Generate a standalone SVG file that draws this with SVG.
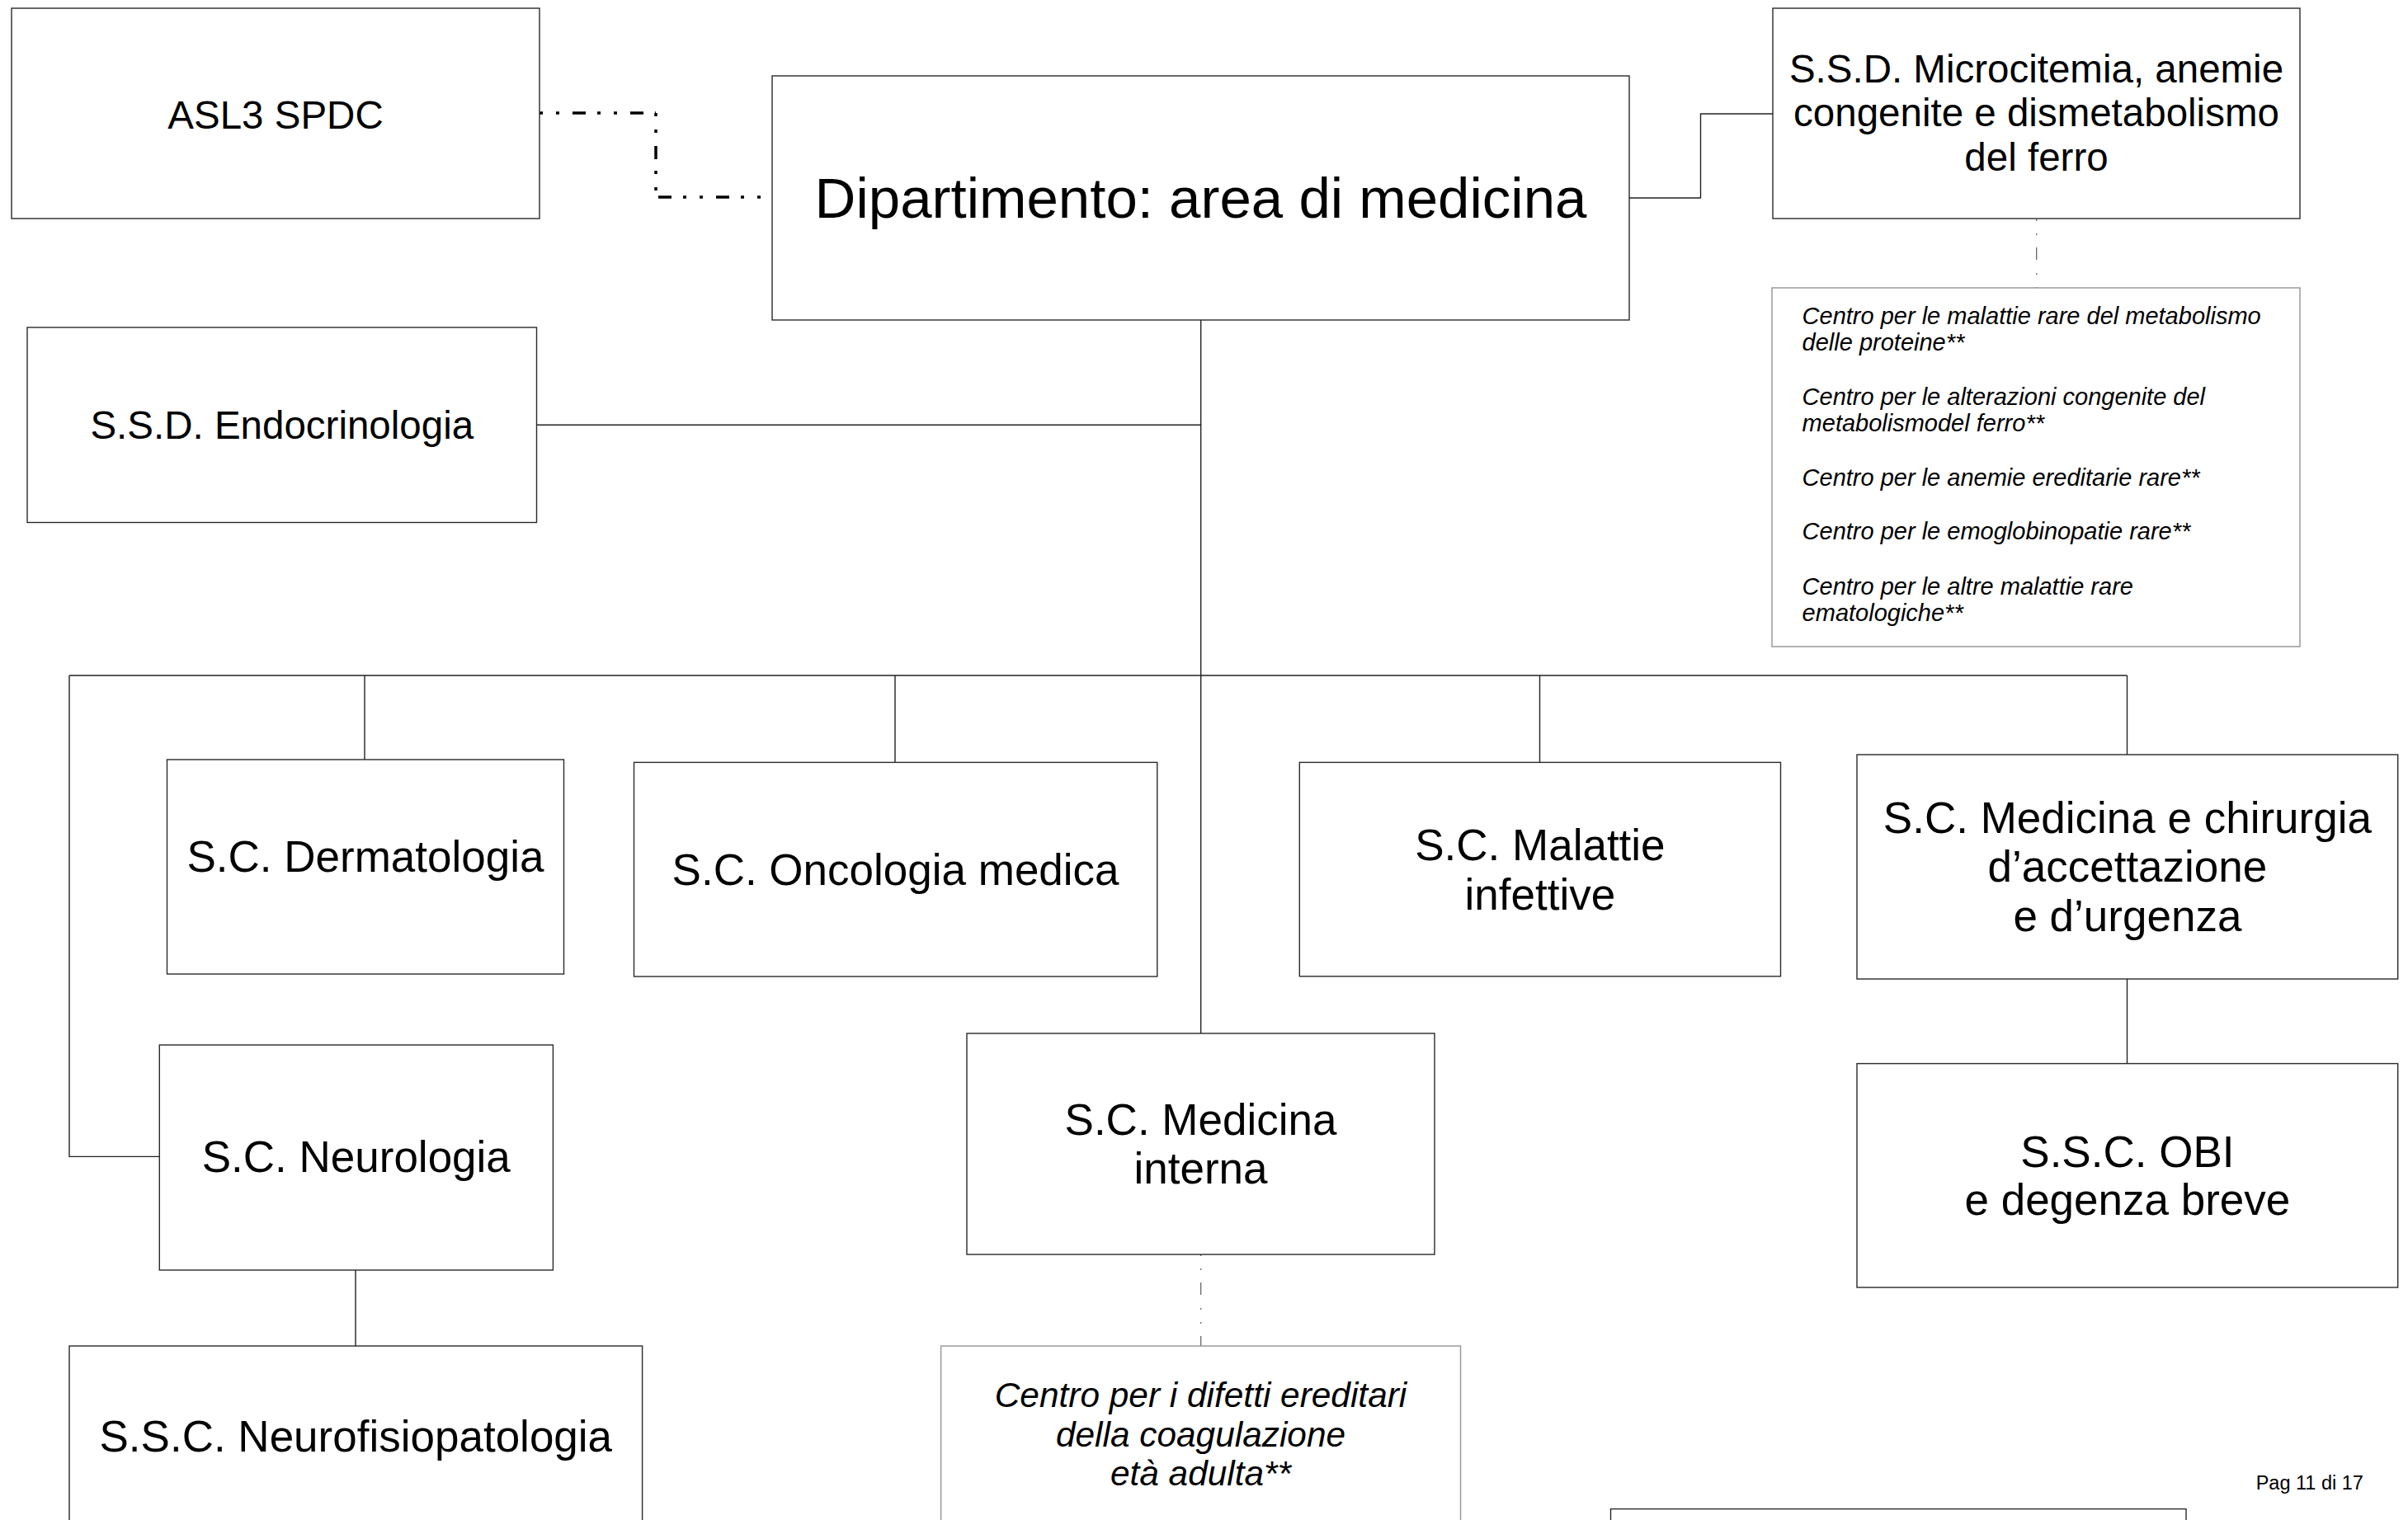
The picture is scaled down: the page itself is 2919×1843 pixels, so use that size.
<svg xmlns="http://www.w3.org/2000/svg" width="2919" height="1843" viewBox="0 0 2919 1843">
<style>
  .box { fill: #ffffff; stroke: #2a2a2a; stroke-width: 1.4; }
  .info { fill: #ffffff; stroke: #9a9a9a; stroke-width: 1.5; }
  .t { font-family: "Liberation Sans", Arial, sans-serif; fill: #000000; text-anchor: middle; }
  .s475 { font-size: 47.5px; }
  .s53 { font-size: 53px; }
  .s69 { font-size: 69px; }
  .it { font-family: "Liberation Sans", Arial, sans-serif; font-style: italic; fill: #000000; }
  .conn { fill: none; stroke: #222222; stroke-width: 1.4; }
  .dd { fill: none; stroke: #000000; stroke-width: 3.5; }
  .gd { fill: none; stroke: #666666; stroke-width: 1.3; stroke-dasharray: 2 15 2 15 15 16; }
</style>
<rect width="2919" height="1843" fill="#ffffff"/>

<g id="connectors">
  <path class="conn" d="M1455.7,388 V819"/>
  <path class="conn" d="M650.5,515.3 H1455.7"/>
  <path class="conn" d="M84,819 H2578.5"/>
  <path class="conn" d="M442,819 V921"/>
  <path class="conn" d="M1085,819 V924.4"/>
  <path class="conn" d="M1455.7,819 V1253"/>
  <path class="conn" d="M1866.5,819 V924.4"/>
  <path class="conn" d="M2578.5,819 V915"/>
  <path class="conn" d="M84,819 V1402.4 H193.3"/>
  <path class="conn" d="M431,1540 V1632"/>
  <path class="conn" d="M2578.5,1187 V1289.6"/>
  <path class="conn" d="M1975,240 H2061.5 V138 H2149"/>
  <path class="dd" d="M654,137 H795" stroke-dasharray="4 16 4 16 16 14"/>
  <path class="dd" d="M795,137 V239" stroke-dasharray="4 16 4 16 16 14"/>
  <path class="dd" d="M798,239 H934" stroke-dasharray="16 14 4 16 4 16"/>
  <path class="gd" d="M2468.7,266 V349"/>
  <path class="gd" d="M1455.7,1521 V1632"/>
</g>

<g id="asl3">
  <rect class="box" x="14" y="10" width="640" height="255"/>
  <text class="t s475" x="334" y="155.5">ASL3 SPDC</text>
</g>

<g id="dipartimento">
  <rect class="box" x="936" y="92" width="1039" height="296"/>
  <text class="t s69" x="1455.5" y="264">Dipartimento: area di medicina</text>
</g>

<g id="microcitemia">
  <rect class="box" x="2149" y="10" width="639" height="255"/>
  <text class="t s475" x="2468.5" y="99.5">S.S.D. Microcitemia, anemie</text>
  <text class="t s475" x="2468.5" y="153">congenite e dismetabolismo</text>
  <text class="t s475" x="2468.5" y="206.6">del ferro</text>
</g>

<g id="centri-rari">
  <rect class="info" x="2148" y="349" width="640" height="435"/>
  <text class="it" font-size="29" x="2184.6" y="393">Centro per le malattie rare del metabolismo</text>
  <text class="it" font-size="29" x="2184.6" y="424.5">delle proteine**</text>
  <text class="it" font-size="29" x="2184.6" y="491">Centro per le alterazioni congenite del</text>
  <text class="it" font-size="29" x="2184.6" y="522.5">metabolismodel ferro**</text>
  <text class="it" font-size="29" x="2184.6" y="589.3">Centro per le anemie ereditarie rare**</text>
  <text class="it" font-size="29" x="2184.6" y="654">Centro per le emoglobinopatie rare**</text>
  <text class="it" font-size="29" x="2184.6" y="721">Centro per le altre malattie rare</text>
  <text class="it" font-size="29" x="2184.6" y="752.6">ematologiche**</text>
</g>

<g id="endocrinologia">
  <rect class="box" x="33" y="397" width="617.5" height="236.5"/>
  <text class="t s475" x="341.8" y="532">S.S.D. Endocrinologia</text>
</g>

<g id="dermatologia">
  <rect class="box" x="202.5" y="921" width="481" height="260"/>
  <text class="t s53" x="443" y="1057">S.C. Dermatologia</text>
</g>

<g id="oncologia">
  <rect class="box" x="768.5" y="924.4" width="634.3" height="259.6"/>
  <text class="t s53" x="1085.6" y="1073">S.C. Oncologia medica</text>
</g>

<g id="malattie-infettive">
  <rect class="box" x="1575.3" y="924.4" width="583.2" height="259.4"/>
  <text class="t s53" x="1866.9" y="1043">S.C. Malattie</text>
  <text class="t s53" x="1866.9" y="1103">infettive</text>
</g>

<g id="medicina-chirurgia">
  <rect class="box" x="2251" y="915" width="655.7" height="272"/>
  <text class="t s53" x="2578.9" y="1009.5">S.C. Medicina e chirurgia</text>
  <text class="t s53" x="2578.9" y="1069.4">d’accettazione</text>
  <text class="t s53" x="2578.9" y="1129.3">e d’urgenza</text>
</g>

<g id="neurologia">
  <rect class="box" x="193.3" y="1267" width="477.1" height="273"/>
  <text class="t s53" x="431.8" y="1420.7">S.C. Neurologia</text>
</g>

<g id="medicina-interna">
  <rect class="box" x="1172" y="1253" width="567" height="268"/>
  <text class="t s53" x="1455.5" y="1375.5">S.C. Medicina</text>
  <text class="t s53" x="1455.5" y="1435">interna</text>
</g>

<g id="obi">
  <rect class="box" x="2251" y="1289.6" width="655.7" height="271.4"/>
  <text class="t s53" x="2578.9" y="1415.3">S.S.C. OBI</text>
  <text class="t s53" x="2578.9" y="1473">e degenza breve</text>
</g>

<g id="neurofisiopatologia">
  <rect class="box" x="84" y="1632" width="694.6" height="260"/>
  <text class="t s53" x="431.3" y="1759.7">S.S.C. Neurofisiopatologia</text>
</g>

<g id="centro-coagulazione">
  <rect class="info" x="1140.6" y="1632" width="629.9" height="260"/>
  <text class="it" font-size="42.4" text-anchor="middle" x="1455.5" y="1706">Centro per i difetti ereditari</text>
  <text class="it" font-size="42.4" text-anchor="middle" x="1455.5" y="1754">della coagulazione</text>
  <text class="it" font-size="42.4" text-anchor="middle" x="1455.5" y="1801">età adulta**</text>
</g>

<g id="box-bottom">
  <rect class="box" x="1952.5" y="1829.6" width="697.5" height="60"/>
</g>

<g id="page-number">
  <text font-family="'Liberation Sans', Arial, sans-serif" font-size="23.5" fill="#000000" x="2734.7" y="1805.7">Pag 11 di 17</text>
</g>
</svg>
